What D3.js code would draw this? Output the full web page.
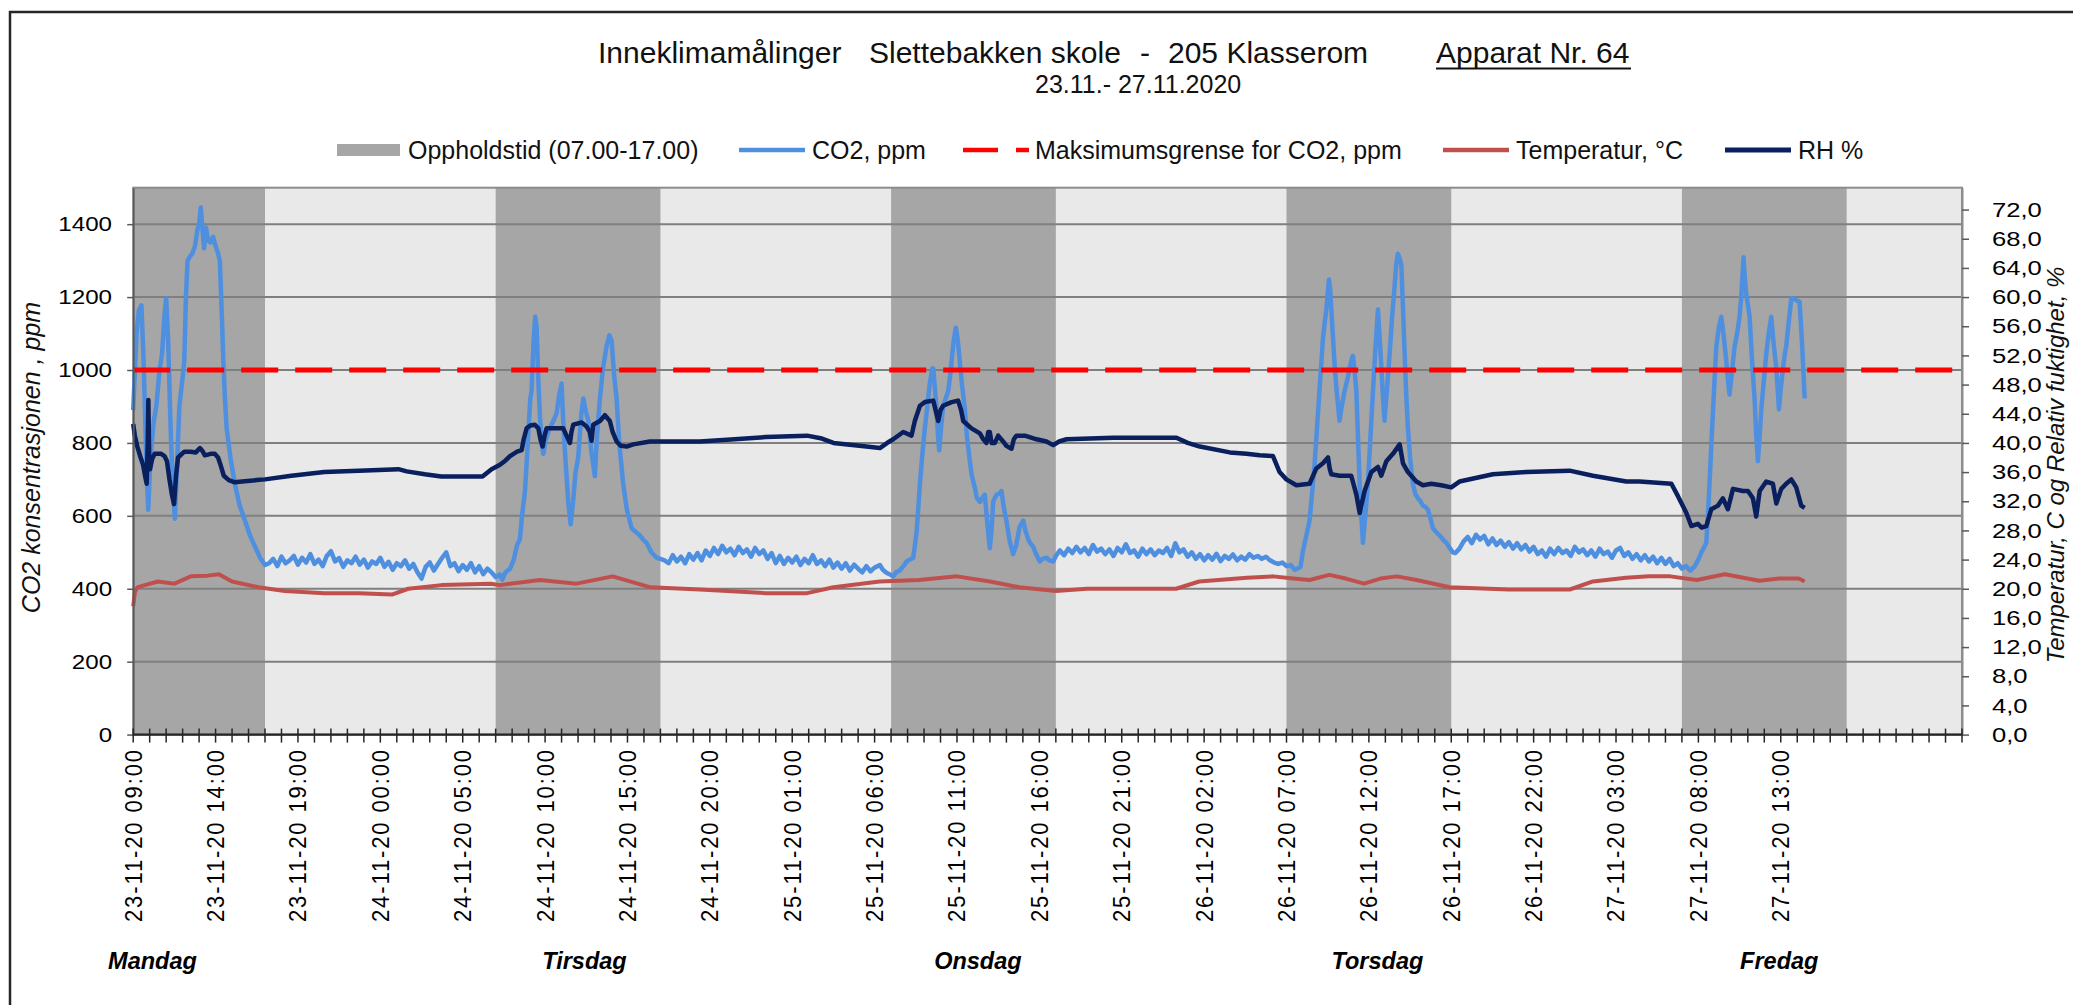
<!DOCTYPE html>
<html>
<head>
<meta charset="utf-8">
<script src="https://cdn.jsdelivr.net/npm/d3@7"></script>
<style>
  html, body { margin: 0; padding: 0; background: #ffffff; }
  svg { display: block; font-family: "Liberation Sans", Arial, sans-serif; }
</style>
</head>
<body>
<svg id="chart" width="2073" height="1005"></svg>
<script>
// --- data (hours counted from 23.11.2020 09:00) ---
const HOURS_TOTAL = 111;          // axis runs to 28.11 00:00
const LABEL_EVERY = 5;            // one date label every 5 hours

const xTickLabels = [
  "23-11-20 09:00", "23-11-20 14:00", "23-11-20 19:00", "24-11-20 00:00", "24-11-20 05:00",
  "24-11-20 10:00", "24-11-20 15:00", "24-11-20 20:00", "25-11-20 01:00", "25-11-20 06:00",
  "25-11-20 11:00", "25-11-20 16:00", "25-11-20 21:00", "26-11-20 02:00", "26-11-20 07:00",
  "26-11-20 12:00", "26-11-20 17:00", "26-11-20 22:00", "27-11-20 03:00", "27-11-20 08:00",
  "27-11-20 13:00"
];

const dayNames = ["Mandag", "Tirsdag", "Onsdag", "Torsdag", "Fredag"];
const dayLabelHours = [1.17, 27.39, 51.27, 75.52, 99.91];

// Oppholdstid 07.00-17.00, [start, end] in hours
const occupied = [[0, 8], [22, 32], [46, 56], [70, 80], [94, 104]];

const co2Limit = 1000;

const legendLabels = ["Oppholdstid (07.00-17.00)", "CO2, ppm", "Maksimumsgrense for CO2, ppm", "Temperatur, °C", "RH %"];

// CO2 (ppm) during school hours, [hour, ppm]
const co2Mon = [[0,890],[0.2,1100],[0.35,1165],[0.5,1177],[0.62,1040],[0.78,780],[0.91,617],[1.05,760],[1.25,860],[1.4,900],
  [1.6,1000],[1.75,1044],[1.9,1150],[2.0,1197],[2.12,1080],[2.3,800],[2.45,640],[2.53,592],[2.65,720],[2.8,900],[3.0,980],
  [3.1,1024],[3.2,1200],[3.3,1300],[3.5,1315],[3.6,1320],[3.75,1340],[3.9,1385],[4.0,1400],[4.1,1446],[4.2,1390],[4.3,1334],
  [4.42,1390],[4.55,1355],[4.7,1350],[4.85,1365],[5.0,1340],[5.15,1320],[5.26,1298],[5.38,1150],[5.47,1024],[5.57,920],
  [5.67,841],[5.9,760],[6.17,688],[6.45,630],[6.78,587],[7.1,545],[7.39,516],[7.7,485],[8.0,465]];
const co2Tue = [[22.26,439],[22.4,425],[22.6,445],[22.87,455],[23.1,480],[23.3,520],[23.47,536],[23.6,600],[23.78,668],
  [23.95,800],[24.1,920],[24.18,943],[24.3,1080],[24.4,1146],[24.48,1120],[24.6,960],[24.69,870],[24.8,800],[24.89,770],
  [25.05,810],[25.29,841],[25.5,860],[25.7,882],[25.85,930],[26.0,963],[26.1,860],[26.2,780],[26.4,640],[26.55,577],
  [26.7,640],[26.85,720],[27.01,760],[27.2,880],[27.32,922],[27.45,890],[27.62,861],[27.8,780],[28.02,709],[28.15,820],
  [28.33,922],[28.5,1000],[28.73,1065],[28.9,1095],[29.04,1080],[29.2,980],[29.34,922],[29.5,800],[29.74,688],[29.95,620],
  [30.25,566],[30.5,556],[30.76,546],[30.95,535],[31.16,526],[31.45,500],[31.77,485],[32.0,482]];
const co2Wed = [[45.32,465],[45.5,452],[45.72,444],[45.9,440],[46.13,434],[46.3,445],[46.53,450],[46.75,462],[46.94,475],
  [47.15,480],[47.34,485],[47.45,520],[47.55,556],[47.65,620],[47.75,688],[47.9,770],[48.05,841],[48.2,900],[48.35,963],
  [48.5,1004],[48.56,1004],[48.66,950],[48.76,892],[48.85,820],[48.92,780],[49.05,850],[49.16,902],[49.3,920],[49.47,943],
  [49.6,990],[49.67,1024],[49.8,1080],[49.93,1116],[50.05,1080],[50.17,1024],[50.3,960],[50.48,892],[50.6,820],[50.78,750],
  [50.9,710],[51.08,678],[51.2,650],[51.39,638],[51.55,650],[51.69,658],[51.8,600],[51.99,511],[52.1,560],[52.2,640],
  [52.4,658],[52.55,660],[52.7,668],[52.85,620],[53.0,587],[53.2,530],[53.41,495],[53.6,520],[53.8,570],[54.02,587],
  [54.15,560],[54.32,536],[54.45,525],[54.62,516],[54.8,495],[55.03,475],[55.2,482],[55.43,485],[55.6,478],[55.84,475]];
const co2Thu = [[70.85,460],[71.0,505],[71.2,545],[71.4,587],[71.55,660],[71.7,739],[71.85,840],[72.0,943],[72.1,1010],
  [72.21,1085],[72.32,1130],[72.42,1166],[72.5,1210],[72.58,1248],[72.65,1220],[72.72,1166],[72.82,1090],[72.92,1014],
  [73.05,940],[73.22,861],[73.35,900],[73.53,943],[73.7,975],[73.83,1004],[73.93,1025],[74.03,1039],[74.13,1000],[74.24,943],
  [74.35,800],[74.44,688],[74.54,600],[74.64,526],[74.78,600],[74.94,688],[75.1,820],[75.25,943],[75.4,1060],[75.55,1166],
  [75.65,1090],[75.75,1014],[75.85,930],[75.95,861],[76.1,950],[76.26,1044],[76.4,1140],[76.56,1228],[76.66,1290],
  [76.76,1319],[76.87,1305],[76.97,1289],[77.07,1170],[77.17,1044],[77.27,930],[77.37,841],[77.5,760],[77.67,688],
  [77.82,660],[77.98,648],[78.13,640],[78.28,628],[78.43,625],[78.58,617],[78.75,590],[78.89,566],[79.1,555],[79.29,546],
  [79.5,535],[79.7,526],[79.9,512],[80.1,500]];
const co2Fri = [[95.0,480],[95.18,500],[95.33,512],[95.48,526],[95.6,620],[95.7,710],[95.78,790],[95.9,900],[96.0,990],
  [96.09,1065],[96.25,1120],[96.39,1146],[96.52,1100],[96.65,1044],[96.78,980],[96.89,933],[97.05,1000],[97.2,1065],
  [97.35,1100],[97.5,1146],[97.6,1200],[97.68,1260],[97.74,1309],[97.82,1250],[97.91,1207],[98.0,1180],[98.11,1146],
  [98.25,1030],[98.41,922],[98.5,830],[98.61,750],[98.72,820],[98.82,892],[98.97,970],[99.12,1044],[99.27,1100],[99.42,1146],
  [99.55,1080],[99.73,1004],[99.81,950],[99.89,892],[100.0,950],[100.13,1004],[100.23,1040],[100.33,1065],[100.48,1130],
  [100.64,1197],[100.8,1195],[101.0,1190],[101.14,1187],[101.22,1130],[101.3,1065],[101.38,990],[101.45,922]];

// CO2 (ppm) overnight, one reading every 15 minutes
const NIGHT_STEP = 0.25;
const nightStartHours = [8.25, 32.25, 56.0, 80.25];
const co2NightMon = [470,482,462,488,470,478,490,466,485,472,495,468,480,462,490,503,475,484,460,478,
  470,488,466,480,458,475,468,485,460,474,452,470,462,478,455,468,445,428,460,472,
  450,468,485,500,462,470,448,465,452,470,445,462,440,455,445,432];
const co2NightTue = [478,470,492,475,488,470,495,480,498,478,505,490,512,495,518,500,510,492,515,498,
  508,488,512,495,505,482,498,470,490,468,485,472,488,465,482,470,492,468,478,462,
  480,458,472,455,470,450,466,455,445,462,448,458];
const co2NightWed = [490,505,492,510,498,515,500,512,495,520,502,510,495,508,490,512,500,522,498,505,
  488,510,495,508,492,505,498,512,490,525,500,508,488,500,482,495,478,492,480,496,
  476,490,482,494,478,488,480,495,485,490,482,488,478,472,468,472,462,465,452];
const co2NightThu = [498,510,530,542,525,548,535,545,522,538,520,532,515,528,510,525,508,520,502,515,
  495,505,488,510,495,512,498,505,490,515,500,508,492,505,488,510,495,502,485,505,
  512,490,500,482,495,478,492,475,488,470,485,468,482,462,470,455,462,450,460];

// Relativ fuktighet (%), [hour, %]
const rhSeries = [[0,42.6],[0.1,41.0],[0.25,39.5],[0.45,38.0],[0.6,37.0],[0.72,35.5],[0.82,34.4],[0.88,40.0],[0.92,45.9],
  [0.97,38.0],[1.02,36.4],[1.15,37.8],[1.3,38.5],[1.7,38.5],[1.9,38.2],[2.05,37.5],[2.2,35.0],[2.35,32.9],[2.48,31.6],
  [2.6,35.5],[2.72,38.0],[3.1,38.8],[3.5,38.8],[3.8,38.7],[4.05,39.3],[4.2,38.9],[4.35,38.3],[4.7,38.5],[4.95,38.5],
  [5.15,38.0],[5.3,37.0],[5.5,35.5],[5.8,34.9],[6.17,34.6],[6.6,34.7],[7.5,34.9],[8.0,35.0],[9.6,35.5],[11.6,36.0],
  [13.7,36.2],[16.1,36.4],[16.6,36.1],[17.7,35.7],[18.7,35.4],[21.2,35.4],[21.75,36.4],[22.26,37.0],
  [22.6,37.6],[22.87,38.2],[23.3,38.8],[23.58,39.0],[23.7,40.5],[23.88,42.0],[24.1,42.4],[24.38,42.5],[24.59,42.0],
  [24.72,40.5],[24.85,39.5],[24.97,41.0],[25.09,42.0],[25.6,42.0],[26.1,42.0],[26.3,41.0],[26.51,40.0],[26.6,41.5],
  [26.71,42.5],[27.22,42.8],[27.5,42.3],[27.72,41.5],[27.82,40.3],[27.92,42.5],[28.33,43.0],[28.63,43.8],[28.93,43.0],
  [29.1,41.5],[29.34,40.2],[29.6,39.6],[29.95,39.5],[30.35,39.8],[31.36,40.2],[34.4,40.2],[36.5,40.5],[38.4,40.8],
  [40.9,41.0],[41.8,40.6],[42.5,40.0],[44.5,39.5],[45.32,39.3],
  [45.9,40.2],[46.13,40.5],[46.74,41.5],[47.24,41.0],[47.44,43.0],[47.75,45.1],[48.05,45.6],[48.56,45.8],[48.7,44.5],
  [48.86,43.0],[49.0,44.5],[49.16,45.1],[49.67,45.6],[50.07,45.8],[50.25,44.5],[50.38,43.0],[50.88,42.0],[51.39,41.3],
  [51.6,40.5],[51.79,40.0],[51.9,41.5],[51.99,41.5],[52.1,40.0],[52.3,40.0],[52.5,41.0],[52.8,40.2],[53.0,39.6],
  [53.31,39.2],[53.45,40.5],[53.61,41.0],[54.12,41.0],[54.83,40.5],[55.43,40.2],[55.84,39.7],[56.2,40.2],[56.65,40.5],
  [59.48,40.7],[63.32,40.7],[64.0,40.0],[64.74,39.5],[66.56,38.7],[67.57,38.5],[68.37,38.3],[69.18,38.2],
  [69.58,36.0],[69.99,35.0],[70.6,34.2],[71.4,34.4],[71.81,36.5],[72.21,37.2],[72.52,38.0],[72.62,36.5],[72.72,35.7],
  [73.22,35.5],[73.93,35.5],[74.24,32.9],[74.44,30.4],[74.74,33.4],[75.15,36.0],[75.55,36.7],[75.75,35.5],[76.06,37.5],
  [76.46,38.5],[76.87,39.8],[77.07,37.2],[77.37,36.0],[77.88,34.7],[78.28,34.2],[78.79,34.4],[79.39,34.2],[80.0,33.9],
  [80.5,34.7],[82.53,35.7],[84.55,36.0],[87.18,36.2],[88.6,35.5],[90.62,34.7],
  [91.43,34.7],[93.36,34.4],[93.76,32.7],[94.27,30.4],[94.57,28.6],[94.97,28.9],[95.2,28.4],[95.48,28.6],[95.78,30.9],
  [96.19,31.4],[96.49,32.4],[96.79,30.9],[97.1,33.7],[97.7,33.4],[98.01,33.4],[98.31,32.4],[98.51,29.9],[98.72,33.4],
  [99.12,34.7],[99.52,34.4],[99.73,31.7],[100.03,33.7],[100.33,34.4],[100.64,35.0],[100.94,33.9],[101.24,31.4],[101.45,31.1]];

// Temperatur (°C), [hour, °C]
const tempSeries = [[0,17.6],[0.1,19.5],[0.25,20.2],[0.7,20.5],[1.5,21.0],[2.5,20.7],[3.5,21.7],[4.5,21.8],[5.2,22.0],
  [6.0,21.0],[7.6,20.2],[9.2,19.7],[11.6,19.4],[13.7,19.4],[15.7,19.2],[16.7,20.0],[18.7,20.5],[21.7,20.7],[22.26,20.5],
  [24.7,21.2],[26.9,20.7],[29.1,21.7],[31.4,20.2],[34.4,19.9],[38.4,19.4],[40.9,19.4],[42.5,20.2],[45.3,21.0],[47.7,21.2],
  [50.0,21.7],[52.0,21.0],[53.8,20.2],[56.0,19.7],[57.9,20.0],[63.3,20.0],[64.7,21.0],[67.6,21.5],[69.2,21.7],[70.4,21.4],
  [71.4,21.2],[72.6,21.9],[73.6,21.4],[74.7,20.7],[75.7,21.4],[76.7,21.7],[77.9,21.2],[79.9,20.2],[83.5,19.9],[87.2,19.9],
  [88.6,21.0],[90.6,21.5],[92.0,21.7],[93.3,21.7],[94.9,21.2],[96.6,22.0],[98.7,21.1],[99.9,21.4],[101.1,21.4],[101.45,21.0]];

// --- build CO2 series ---
const nightPoints = (start, values) => values.map((v, i) => [start + i * NIGHT_STEP, v]);
const co2Series = [].concat(
  co2Mon, nightPoints(nightStartHours[0], co2NightMon),
  co2Tue, nightPoints(nightStartHours[1], co2NightTue),
  co2Wed, nightPoints(nightStartHours[2], co2NightWed),
  co2Thu, nightPoints(nightStartHours[3], co2NightThu),
  co2Fri
);

// --- layout ---
const FONT = "'Liberation Sans', Arial, sans-serif";
const colCo2 = "#4f8fdf";
const colLimit = "#ff0000";
const colTemp = "#c0504d";
const colRh = "#0a1f5e";
const colDark = "#a6a6a6";
const colLight = "#e9e9e9";
const colGrid = "#7f7f7f";

const plot = { left: 133.2, right: 1962, top: 187.7, bottom: 734.6 };

const svg = d3.select("#chart");

const x = d3.scaleLinear().domain([0, HOURS_TOTAL]).range([plot.left, plot.right]);
const yCo2 = d3.scaleLinear().domain([0, 1500]).range([plot.bottom, plot.top]);
const yRight = d3.scaleLinear().domain([0, 75]).range([plot.bottom, plot.top]);

// outer frame
svg.append("rect")
  .attr("x", 10).attr("y", 12).attr("width", 2100).attr("height", 1100)
  .attr("fill", "none").attr("stroke", "#262626").attr("stroke-width", 2.5);

// --- title ---
const titleG = svg.append("g").style("font-family", FONT).style("font-size", "30px").attr("fill", "#111");
titleG.append("text").attr("x", 598).attr("y", 63).text("Inneklimamålinger");
titleG.append("text").attr("x", 869).attr("y", 63).text("Slettebakken skole");
titleG.append("text").attr("x", 1145).attr("y", 63).attr("text-anchor", "middle").text("-");
titleG.append("text").attr("x", 1168).attr("y", 63).text("205 Klasserom");
titleG.append("text").attr("x", 1436).attr("y", 63).text("Apparat Nr. 64");
titleG.append("line").attr("x1", 1436).attr("x2", 1631).attr("y1", 68.5).attr("y2", 68.5)
  .attr("stroke", "#111").attr("stroke-width", 2.2);
svg.append("text").attr("x", 1035).attr("y", 93)
  .style("font-family", FONT).style("font-size", "25px").attr("fill", "#111")
  .text("23.11.- 27.11.2020");

// --- legend ---
const legendY = 150;
const lg = svg.append("g").style("font-family", FONT).style("font-size", "25px");
lg.append("rect").attr("x", 337).attr("y", legendY - 6).attr("width", 63).attr("height", 12).attr("fill", colDark);
lg.append("line").attr("x1", 739).attr("x2", 805).attr("y1", legendY).attr("y2", legendY)
  .attr("stroke", colCo2).attr("stroke-width", 4.5);
lg.append("line").attr("x1", 963).attr("x2", 1029).attr("y1", legendY).attr("y2", legendY)
  .attr("stroke", colLimit).attr("stroke-width", 4.5).attr("stroke-dasharray", "35,18");
lg.append("line").attr("x1", 1443).attr("x2", 1509).attr("y1", legendY).attr("y2", legendY)
  .attr("stroke", colTemp).attr("stroke-width", 4.5);
lg.append("line").attr("x1", 1725).attr("x2", 1791).attr("y1", legendY).attr("y2", legendY)
  .attr("stroke", colRh).attr("stroke-width", 5);
const legendTextX = [408, 812, 1035, 1516, 1798];
lg.selectAll("text.leg").data(legendLabels).join("text")
  .attr("class", "leg")
  .attr("x", (d, i) => legendTextX[i])
  .attr("y", legendY).attr("dy", "0.35em")
  .attr("fill", "#111")
  .text(d => d);

// --- plot background: light, with dark bands for opening hours ---
svg.append("rect")
  .attr("x", plot.left).attr("y", plot.top)
  .attr("width", plot.right - plot.left).attr("height", plot.bottom - plot.top)
  .attr("fill", colLight);

svg.append("g").selectAll("rect").data(occupied).join("rect")
  .attr("x", d => x(Math.max(d[0], 0)))
  .attr("y", plot.top)
  .attr("width", d => x(Math.min(d[1], HOURS_TOTAL)) - x(Math.max(d[0], 0)))
  .attr("height", plot.bottom - plot.top)
  .attr("fill", colDark);

// horizontal gridlines
svg.append("g").selectAll("line").data(d3.range(200, 1401, 200)).join("line")
  .attr("x1", plot.left).attr("x2", plot.right)
  .attr("y1", d => yCo2(d)).attr("y2", d => yCo2(d))
  .attr("stroke", colGrid).attr("stroke-width", 2);

// plot frame (top / right)
svg.append("rect")
  .attr("x", plot.left).attr("y", plot.top)
  .attr("width", plot.right - plot.left).attr("height", plot.bottom - plot.top)
  .attr("fill", "none").attr("stroke", "#8c8c8c").attr("stroke-width", 2);

// --- series ---
const lineLeft = d3.line().x(d => x(d[0])).y(d => yCo2(d[1]));
const lineRight = d3.line().x(d => x(d[0])).y(d => yRight(d[1]));

svg.append("path").datum(co2Series)
  .attr("d", lineLeft)
  .attr("fill", "none").attr("stroke", colCo2).attr("stroke-width", 4.5)
  .attr("stroke-linejoin", "round");

svg.append("line")
  .attr("x1", x(0)).attr("x2", x(HOURS_TOTAL))
  .attr("y1", yCo2(co2Limit)).attr("y2", yCo2(co2Limit))
  .attr("stroke", colLimit).attr("stroke-width", 5).attr("stroke-dasharray", "37,17");

svg.append("path").datum(tempSeries)
  .attr("d", lineRight)
  .attr("fill", "none").attr("stroke", colTemp).attr("stroke-width", 4)
  .attr("stroke-linejoin", "round");

svg.append("path").datum(rhSeries)
  .attr("d", lineRight)
  .attr("fill", "none").attr("stroke", colRh).attr("stroke-width", 4.5)
  .attr("stroke-linejoin", "round");

// --- left axis ---
const gL = svg.append("g")
  .attr("transform", `translate(${plot.left},0)`)
  .call(d3.axisLeft(yCo2).tickValues(d3.range(0, 1401, 200)).tickSize(6).tickSizeOuter(0).tickPadding(12.4)
    .tickFormat(d3.format("d")))
  .attr("font-family", FONT).attr("font-size", 21);
gL.select(".domain").attr("stroke", "#595959").attr("stroke-width", 1.8);
gL.selectAll(".tick line").attr("stroke", "#595959").attr("stroke-width", 1.5);
gL.selectAll(".tick text").attr("fill", "#000").attr("transform", "scale(1.15,1)");

// --- right axis ---
const gR = svg.append("g")
  .attr("transform", `translate(${plot.right},0)`)
  .call(d3.axisRight(yRight).tickValues(d3.range(0, 73, 4)).tickSize(7).tickSizeOuter(0).tickPadding(17.6)
    .tickFormat(d => d3.format(".1f")(d).replace(".", ",")))
  .attr("font-family", FONT).attr("font-size", 21);
gR.select(".domain").attr("stroke", "#8c8c8c").attr("stroke-width", 2);
gR.selectAll(".tick line").attr("stroke", "#595959").attr("stroke-width", 1.5);
gR.selectAll(".tick text").attr("fill", "#000").attr("transform", "scale(1.22,1)");

// --- x axis: hourly crossing ticks, date label every 5 hours ---
const y0 = yCo2(0);
const gX = svg.append("g");
gX.append("line")
  .attr("x1", plot.left).attr("x2", plot.right).attr("y1", y0).attr("y2", y0)
  .attr("stroke", "#262626").attr("stroke-width", 2.2);
gX.selectAll("line.tk").data(d3.range(0, HOURS_TOTAL + 1)).join("line")
  .attr("class", "tk")
  .attr("x1", d => x(d)).attr("x2", d => x(d))
  .attr("y1", y0 - 6).attr("y2", y0 + 8)
  .attr("stroke", "#262626").attr("stroke-width", 1.5);
gX.selectAll("text").data(xTickLabels).join("text")
  .attr("transform", (d, i) => `translate(${x(i * LABEL_EVERY)},750) scale(1.1,1) rotate(-90)`)
  .attr("text-anchor", "end")
  .attr("dy", "0.35em")
  .attr("textLength", 172)
  .attr("lengthAdjust", "spacing")
  .style("font-family", FONT).style("font-size", "22px")
  .attr("fill", "#000")
  .text(d => d);

// --- axis titles ---
svg.append("text")
  .attr("transform", "translate(40,457.5) rotate(-90)")
  .attr("text-anchor", "middle")
  .style("font-family", FONT).style("font-size", "25px").style("font-style", "italic")
  .attr("fill", "#111")
  .text("CO2 konsentrasjonen , ppm");

// kept a few pixels inside the right edge so the descenders are not cut
svg.append("text")
  .attr("transform", "translate(2064,465) rotate(-90)")
  .attr("text-anchor", "middle")
  .style("font-family", FONT).style("font-size", "24px").style("font-style", "italic")
  .attr("fill", "#111")
  .text("Temperatur, C og Relativ fuktighet, %");

// --- weekday names ---
svg.append("g").selectAll("text").data(dayNames).join("text")
  .attr("x", (d, i) => x(dayLabelHours[i]))
  .attr("y", 969)
  .attr("text-anchor", "middle")
  .style("font-family", FONT).style("font-size", "23.5px")
  .style("font-weight", "bold").style("font-style", "italic")
  .attr("fill", "#000")
  .text(d => d);
</script>
</body>
</html>
